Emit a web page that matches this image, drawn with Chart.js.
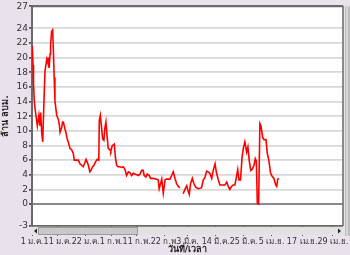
<!DOCTYPE html>
<html><head><meta charset="utf-8">
<script src="https://cdn.jsdelivr.net/npm/chart.js@4/dist/chart.umd.min.js"></script>
<style>html,body{margin:0;padding:0;background:#e9e1ec;overflow:hidden}canvas{display:block}</style>
</head><body>
<canvas id="c" width="350" height="255"></canvas>
<script>
// x positions in days since 1 Jan
const days = [0.1,0.4,0.6,0.9,1.2,2.1,2.7,3.1,3.4,3.8,4.2,4.8,5.1,5.8,6.2,6.4,6.7,7.1,7.3,7.7,8.1,8.4,8.7,9.0,9.7,10.3,10.7,11.0,11.6,12.0,12.3,12.9,13.3,13.8,14.2,14.9,15.6,16.2,16.6,17.5,18.2,18.8,19.5,20.1,20.8,21.2,21.7,22.1,22.7,23.1,23.8,24.3,24.8,25.6,26.2,26.4,26.8,27.3,27.7,28.2,28.6,29.0,29.5,29.9,30.6,30.9,31.4,31.9,32.3,32.7,33.2,33.8,34.5,35.2,35.8,36.5,37.1,37.8,38.4,39.1,39.7,40.4,41.1,41.7,42.4,43.0,43.6,44.0,44.7,45.2,46.0,46.5,47.6,48.9,49.5,49.9,50.9,51.5,52.2,52.8,54.1,54.8,55.4,56.1,56.7,57.4,58.0,58.6,59.3,60.0,60.7,61.3,61.7,62.2,62.9,63.5,64.2,65.2,66.5,67.2,67.8,68.5,69.1,69.8,70.5,71.1,71.8,72.4,73.1,73.7,75.0,75.7,76.4,77.0,77.6,78.3,78.9,79.6,80.3,80.7,81.2,81.8,82.4,82.9,83.5,84.2,84.7,85.2,85.8,86.5,87.1,87.6,88.0,88.4,88.9,89.4,89.8,90.5,91.0,91.8,92.3,92.9,93.6,94.2,94.9,95.6,96.0,96.4,96.9];
// volume, million m3 (null = missing record)
const values = [21.6,19.0,16.4,14.1,13.0,10.7,12.1,10.7,12.5,9.8,8.5,15.2,18.2,19.8,19.3,20.0,18.6,20.5,21.8,23.6,23.8,20.9,17.3,14.1,12.1,11.6,10.9,9.8,10.4,11.2,11.2,10.3,9.8,8.9,8.5,7.6,7.4,6.9,6.0,6.0,6.0,5.5,5.3,5.1,5.7,6.1,5.7,5.3,4.4,4.6,5.1,5.3,5.7,6.1,6.0,11.4,12.1,10.4,8.9,8.7,10.4,11.2,9.1,7.6,7.4,7.2,7.9,8.1,8.2,6.4,5.3,5.1,5.1,5.0,5.1,4.7,3.9,4.4,4.3,3.9,4.2,4.1,4.0,3.9,4.1,4.6,4.6,3.9,3.7,4.1,3.9,3.5,3.5,3.4,3.3,2.1,3.4,1.5,3.3,3.4,3.4,3.9,4.4,3.5,2.8,2.4,2.2,null,1.4,2.0,2.5,1.7,1.3,2.8,3.5,2.8,2.3,2.1,2.2,3.3,3.6,4.5,4.4,4.2,3.5,4.6,5.5,4.2,3.3,2.6,2.6,2.6,3.0,2.4,2.0,2.4,2.6,2.6,3.9,4.7,3.3,3.3,6.4,7.6,8.5,7.1,7.8,6.0,4.6,4.8,5.3,6.2,5.9,0.1,0.0,11.0,10.7,9.1,8.8,8.8,6.9,6.0,4.2,3.8,3.5,2.6,2.4,3.4,3.5];
const xTickDays = [0,10,21,31,41,52,61,72,83,94,106,118];
const xTickLabels = ['1 ม.ค.','11 ม.ค.','22 ม.ค.','1 ก.พ.','11 ก.พ.','22 ก.พ.','3 มี.ค.','14 มี.ค.','25 มี.ค.','5 เม.ย.','17 เม.ย.','29 เม.ย.'];
const yTicks = [-3,0,2,4,6,8,10,12,14,16,18,20,22,24,27];
const xTitle = 'วันที่/เวลา';
const yTitle = 'ล้าน ลบม.';

const FONT = "'DejaVu Sans', 'Noto Sans', sans-serif";

const decor = {
  id: 'decor',
  beforeDraw(chart) {
    const {ctx, chartArea: a} = chart;
    ctx.save();
    ctx.fillStyle = '#e9e1ec';
    ctx.fillRect(0, 0, chart.width, chart.height);
    ctx.fillStyle = '#ffffff';
    ctx.fillRect(a.left, a.top, a.right - a.left, a.bottom - a.top);
    ctx.restore();
  },
  afterDraw(chart) {
    const {ctx, chartArea: a} = chart;
    ctx.save();
    // horizontal scrollbar
    const y0 = a.bottom + 1, h = 8;
    ctx.fillStyle = '#e2e2e2';
    ctx.fillRect(a.left, y0, a.right - a.left, h);
    ctx.fillStyle = '#c9c9c9';
    ctx.fillRect(a.left + 6, y0 + 1, 99, h - 2);
    ctx.strokeStyle = '#9a9a9a';
    ctx.lineWidth = 1;
    ctx.strokeRect(a.left + 6.5, y0 + 0.5, 99, h - 1);
    ctx.fillStyle = '#222';
    ctx.beginPath();
    ctx.moveTo(a.left + 2, y0 + 4); ctx.lineTo(a.left + 5, y0 + 1.5); ctx.lineTo(a.left + 5, y0 + 6.5); ctx.fill();
    ctx.beginPath();
    ctx.moveTo(a.right - 2, y0 + 4); ctx.lineTo(a.right - 5, y0 + 1.5); ctx.lineTo(a.right - 5, y0 + 6.5); ctx.fill();
    // vertical scrollbar
    ctx.fillStyle = '#bdbdbd';
    ctx.fillRect(a.right + 2, a.top, chart.width - a.right - 2, a.bottom - a.top + 10);
    ctx.fillStyle = '#d6d6d6';
    ctx.fillRect(a.right + 3, a.top, 2, a.bottom - a.top + 10);
    // plot frame
    ctx.strokeStyle = '#6a6a6a';
    ctx.lineWidth = 1.5;
    ctx.beginPath();
    ctx.moveTo(a.left, a.top); ctx.lineTo(a.right, a.top); ctx.lineTo(a.right, a.bottom);
    ctx.stroke();
    ctx.restore();
  }
};

new Chart(document.getElementById('c'), {
  type: 'line',
  data: {
    datasets: [{
      data: days.map((d, i) => ({x: d, y: values[i]})),
      borderColor: '#ff0000',
      backgroundColor: '#ff0000',
      borderWidth: 1.6,
      pointRadius: 0,
      tension: 0,
      spanGaps: false,
      fill: false
    }]
  },
  options: {
    responsive: false,
    animation: false,
    devicePixelRatio: 1,
    layout: {padding: {top: 5, right: 7, left: 0, bottom: 0}},
    plugins: {legend: {display: false}, tooltip: {enabled: false}},
    scales: {
      x: {
        type: 'linear', min: 0, max: 122,
        afterBuildTicks: s => { s.ticks = xTickDays.map(v => ({value: v})); },
        afterFit: s => { s.height = 29; },
        grid: {drawOnChartArea: false, drawTicks: true, tickLength: 10, color: '#555', tickColor: '#555'},
        border: {display: false},
        ticks: {
          autoSkip: false, maxRotation: 0, minRotation: 0, padding: 1,
          color: '#333', font: {family: FONT, size: 8},
          callback: v => { const i = xTickDays.indexOf(v); return i >= 0 ? xTickLabels[i] : ''; }
        },
        title: {display: true, text: xTitle, color: '#222', font: {family: FONT, size: 9, weight: 'bold'}, padding: {top: 0, bottom: 0}}
      },
      y: {
        type: 'linear', min: -3, max: 27,
        afterBuildTicks: s => { s.ticks = yTicks.map(v => ({value: v})); },
        afterFit: s => { s.width = 32; },
        grid: {
          color: c => c.tick.value === 0 ? '#8a8a8a' : (c.tick.value === 27 || c.tick.value === -3 ? '#6a6a6a' : '#d8d8d8'),
          lineWidth: c => c.tick.value === 0 ? 2 : 1.8,
          tickLength: 3, tickColor: '#555', drawTicks: true
        },
        border: {display: true, color: '#6a6a6a', width: 2},
        ticks: {autoSkip: false, padding: 1, color: '#333', font: {family: FONT, size: 9}},
        title: {display: true, text: yTitle, color: '#222', font: {family: FONT, size: 9, weight: 'bold'}, padding: {top: 0, bottom: 0}}
      }
    }
  },
  plugins: [decor]
});
</script>
</body></html>
